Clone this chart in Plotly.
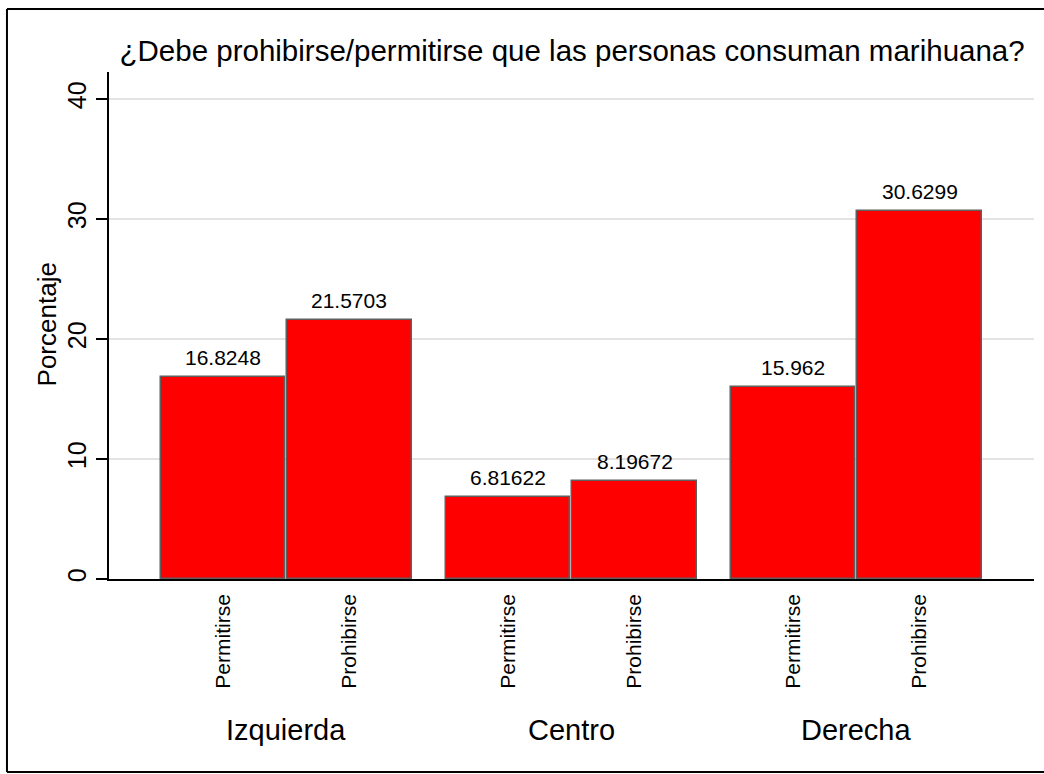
import plotly.graph_objects as go

groups = ["Izquierda", "Centro", "Derecha"]
answers = ["Permitirse", "Prohibirse"]
values = {
    "Izquierda": [16.8248, 21.5703],
    "Centro": [6.81622, 8.19672],
    "Derecha": [15.962, 30.6299],
}
value_labels = {
    "Izquierda": ["16.8248", "21.5703"],
    "Centro": ["6.81622", "8.19672"],
    "Derecha": ["15.962", "30.6299"],
}
y_ticks = [0, 10, 20, 30, 40]
title_text = "¿Debe prohibirse/permitirse que las personas consuman marihuana?"
y_title = "Porcentaje"

FONT = "Liberation Sans, Arial, Helvetica, sans-serif"
GROUP_STEP = 2.253

xs, ys, texts, ticktext = [], [], [], []
for g, grp in enumerate(groups):
    for j, ans in enumerate(answers):
        xs.append(g * GROUP_STEP + j)
        ys.append(values[grp][j])
        texts.append(value_labels[grp][j])
        ticktext.append(ans)

fig = go.Figure()
fig.add_trace(go.Bar(
    x=xs, y=ys, width=0.985,
    marker=dict(color="#ff0000", line=dict(color="#5f5f5f", width=1.5)),
    showlegend=False, hoverinfo="skip",
))

# value labels above bars
for x, y, t in zip(xs, ys, texts):
    fig.add_annotation(
        x=x, y=y, xref="x", yref="y", text=t, showarrow=False,
        xanchor="center", yanchor="bottom", yshift=6,
        font=dict(family=FONT, size=21, color="#000000"),
    )

# group labels
for g, grp in enumerate(groups):
    fig.add_annotation(
        x=g * GROUP_STEP + 0.5, xref="x", y=-0.298, yref="paper",
        text=grp, showarrow=False, xanchor="center", yanchor="middle",
        font=dict(family=FONT, size=29, color="#000000"),
    )

# y-axis title
fig.add_annotation(
    x=-0.066, xref="paper", y=0.502, yref="paper", text=y_title,
    showarrow=False, textangle=-90, xanchor="center", yanchor="middle",
    font=dict(family=FONT, size=26, color="#000000"),
)

# outer frame: top, left, bottom edges (right edge lies outside the picture)
FX0, FX1, FY0, FY1 = -0.1103, 1.1, -0.3807, 1.1245
frame = dict(color="#000000", width=2)
fig.add_shape(type="line", xref="paper", yref="paper", x0=FX0, x1=FX1, y0=FY1, y1=FY1, line=frame, layer="below")
fig.add_shape(type="line", xref="paper", yref="paper", x0=FX0, x1=FX1, y0=FY0, y1=FY0, line=frame, layer="below")
fig.add_shape(type="line", xref="paper", yref="paper", x0=FX0, x1=FX0, y0=FY0, y1=FY1, line=frame, layer="below")

fig.update_layout(
    width=1044, height=774,
    margin=dict(l=109, r=10, t=72, b=195),
    paper_bgcolor="#ffffff", plot_bgcolor="#ffffff",
    bargap=0,
    title=dict(text=title_text, x=0.548, xanchor="center", xref="container",
               y=1 - 51 / 774, yanchor="middle", yref="container",
               font=dict(family=FONT, size=29.5, color="#000000")),
    font=dict(family=FONT, color="#000000"),
)
fig.update_xaxes(
    range=[-0.901, 6.411], tickvals=xs, ticktext=ticktext, tickangle=-90,
    tickfont=dict(family=FONT, size=21, color="#000000"),
    showgrid=False, zeroline=False, showline=True, linecolor="#000000", linewidth=1.5,
    ticks="", ticklabelstandoff=5,
)
fig.update_yaxes(
    range=[0, 42.25], tickvals=y_ticks, tickangle=-90,
    tickfont=dict(family=FONT, size=25, color="#000000"),
    showgrid=True, gridcolor="#e3e3e3", gridwidth=2,
    zeroline=False, showline=True, linecolor="#000000", linewidth=1.5,
    ticks="outside", ticklen=11, tickwidth=1.5, tickcolor="#000000",
)

fig.write_html("out.html", config={"displayModeBar": False},
               post_script="document.body.style.margin='0px';")
